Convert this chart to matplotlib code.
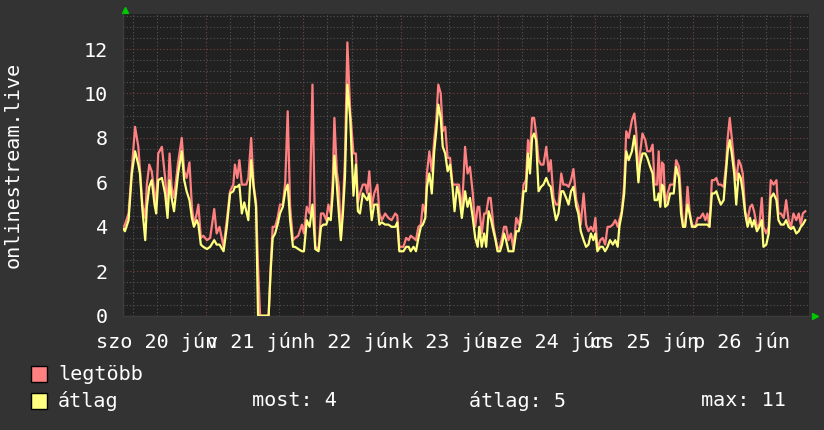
import matplotlib
matplotlib.use("Agg")
import matplotlib.pyplot as plt
from matplotlib.patches import Rectangle
from matplotlib.ticker import MultipleLocator

# ---- data: hours since 20 jún 00:00 ----
hours = [3.8, 4.1, 5.0, 5.8, 6.6, 7.4, 7.8, 8.4, 9.1, 9.5, 10.1, 10.7, 11.4, 11.8, 12.3, 13.2, 14.0, 14.6,
         15.1, 15.6, 16.2, 17.2, 18.1, 18.7, 19.3, 20.0, 20.6, 21.1, 21.8, 22.2, 22.8, 23.4, 24.3, 25.1,
         26.1, 26.7, 27.4, 28.4, 29.2, 30.0, 30.8, 31.2, 31.8, 32.3, 32.9, 33.5, 34.0, 34.5, 35.2, 35.8,
         36.4, 36.9, 37.4, 39.5, 40.0, 40.5, 41.1, 41.7, 42.3, 43.0, 43.6, 44.2, 44.8, 45.5,
         46.0, 46.8, 47.7, 48.2, 48.9, 49.6, 50.3, 51.0, 51.8, 52.4, 53.0, 53.7, 54.2, 54.8, 55.3, 55.7,
         56.3, 56.8, 57.3, 57.8, 58.3, 58.9, 59.6, 60.4, 61.0, 61.5, 62.0, 62.7, 63.4, 63.8, 64.3, 64.9,
         65.5, 66.3, 66.8, 67.4, 68.2, 69.0, 69.8, 70.7, 71.2, 71.7, 72.7, 73.4, 74.0, 74.5, 75.2, 75.8,
         76.4, 77.0, 77.5, 78.1, 78.5, 79.1, 79.7, 80.3, 80.8, 81.3, 81.9, 82.4, 83.0, 83.6, 84.2, 84.8,
         85.3, 85.9, 86.4, 87.1,
         87.9, 88.5, 89.1, 89.8, 90.4, 91.0, 91.4, 92.0, 92.6, 93.1, 93.7, 94.2, 94.9, 95.4, 95.9, 96.5,
         97.0, 97.5, 98.0, 98.6, 99.2, 99.8, 100.5, 101.1, 101.7, 102.3, 102.9, 103.4, 103.9, 104.4,
         104.9, 105.4, 106.0, 106.6, 107.2, 107.9, 108.5, 109.0, 109.7, 110.3, 110.9, 111.6, 112.1,
         112.8, 113.4, 114.0, 114.6, 115.3, 115.8, 116.4, 117.1, 117.7, 118.3, 118.9, 119.5, 120.0,
         120.5, 121.2, 121.8, 122.4, 123.0, 123.6, 124.3, 124.9, 125.5, 125.9, 126.5, 127.1, 127.6, 128.2,
         129.0, 129.6, 130.1, 130.6, 131.0, 131.6, 132.3, 132.8, 133.5, 134.1, 134.6, 135.2, 135.6,
         136.0, 136.4, 136.8, 137.2, 137.8, 138.4, 139.3, 139.9, 140.6, 141.1, 141.6, 142.1, 142.7,
         143.2, 143.8, 144.6, 145.2, 145.8, 146.5, 147.1, 147.6, 148.1, 148.7, 149.3, 149.8, 150.3,
         150.9, 151.6, 152.2, 152.6, 153.1, 153.6, 154.2, 154.7, 155.3, 155.8, 156.3, 156.9, 157.5,
         158.1, 158.6, 159.1, 159.8, 160.4, 161.0, 161.4, 162.1, 162.7, 163.2, 163.9, 164.6, 165.1,
         165.7, 166.4, 167.0, 167.6, 168.2, 168.8, 169.5, 170.1, 170.6, 171.1, 171.7]

legtobb = [4.0, 4.1, 4.6, 6.6, 8.5, 7.6, 6.6, 5.0, 4.4, 5.9, 6.8, 6.5, 5.5, 5.0, 7.3, 7.6, 6.2, 4.9,
           7.3, 5.8, 5.3, 6.9, 8.0, 6.5, 6.2, 6.9, 4.9, 4.1, 4.6, 5.0, 3.5, 3.6, 3.4, 3.5,
           4.8, 3.7, 4.0, 3.1, 4.3, 5.6, 5.9, 6.8, 6.2, 7.0, 5.9, 5.9, 5.9, 6.2, 8.0, 5.9,
           5.1, 2.2, 0.0, 0.0, 2.2, 4.0, 4.0, 4.4, 5.0, 5.0, 6.0, 9.2, 4.9, 3.4,
           3.5, 3.6, 4.1, 3.7, 4.9, 4.6, 10.4, 3.1, 3.0, 4.6, 4.6, 4.3, 5.0, 4.6, 6.1, 8.9,
           6.5, 5.8, 3.5, 5.0, 7.0, 12.3, 9.2, 7.3, 7.3, 5.1, 5.5, 5.9, 5.9, 5.5, 6.5, 4.9,
           5.5, 5.9, 4.6, 4.3, 4.6, 4.4, 4.3, 4.6, 4.5, 3.1, 3.1, 3.5, 3.4, 3.6, 3.5, 3.4,
           4.0, 4.1, 5.0, 4.6, 6.4, 7.4, 6.5, 7.9, 8.8, 10.4, 10.0, 8.3, 8.5, 7.1, 7.1, 5.9,
           5.9, 5.9, 5.9, 4.6,
           7.6, 6.4, 6.7, 5.5, 4.0, 4.9, 4.9, 3.7, 4.6, 4.6, 5.3, 5.3, 4.0, 3.5, 3.0, 3.1,
           3.5, 4.0, 4.0, 3.4, 3.7, 3.0, 4.4, 4.1, 4.6, 5.9, 6.1, 7.9, 7.3, 8.9,
           8.9, 8.2, 7.0, 6.8, 6.8, 7.6, 6.5, 7.0, 5.3, 5.0, 5.0, 6.4, 5.9,
           5.9, 5.8, 6.1, 6.6, 5.2, 4.9, 4.1, 5.5, 4.1, 3.8, 4.0, 3.8, 4.4,
           3.0, 3.4, 3.5, 3.2, 4.0, 4.0, 4.1, 4.3, 4.0, 4.3, 4.7, 5.9, 8.3, 8.0,
           8.8, 9.1, 8.2, 6.1, 7.3, 8.2, 7.9, 7.4, 7.4, 7.7, 5.9, 5.9, 7.4,
           5.3, 6.9, 6.8, 5.0, 5.5, 5.9, 5.9, 7.0, 6.7, 5.3, 4.0, 4.0, 5.8,
           4.7, 4.1, 4.0, 4.4, 4.4, 4.6, 4.3, 4.6, 4.0, 6.1, 6.1, 6.2, 5.9,
           5.9, 5.8, 6.8, 8.0, 8.9, 8.0, 6.8, 6.1, 7.0, 6.8, 6.4, 4.7, 4.3,
           4.9, 5.0, 4.7, 4.0, 4.1, 5.3, 4.0, 3.7, 4.0, 6.1, 5.9, 6.1, 4.6,
           4.6, 4.4, 5.2, 4.3, 4.0, 4.6, 4.3, 4.6, 4.1, 4.6, 4.7]

atlag = [3.9, 3.8, 4.3, 6.4, 7.4, 6.8, 6.4, 4.8, 3.4, 4.9, 5.8, 6.1, 5.0, 4.6, 6.1, 6.2, 5.5, 4.4,
         6.1, 5.3, 4.7, 6.4, 7.4, 6.1, 5.6, 5.2, 4.4, 4.0, 4.3, 4.1, 3.2, 3.1, 3.0, 3.1,
         3.4, 3.2, 3.2, 2.9, 4.0, 5.5, 5.6, 5.8, 5.8, 5.9, 4.6, 5.1, 4.7, 4.3, 7.0, 5.8,
         4.9, 0.0, 0.0, 0.0, 2.0, 3.5, 3.7, 4.1, 4.6, 4.9, 5.6, 5.9, 4.3, 3.1,
         3.1, 3.0, 2.9, 2.9, 4.3, 4.0, 5.0, 3.0, 2.9, 4.0, 4.1, 4.1, 4.4, 4.3, 5.5, 7.2,
         5.9, 4.6, 3.4, 4.6, 6.2, 10.4, 8.9, 5.4, 6.8, 4.7, 4.6, 5.5, 5.3, 5.2, 5.5, 4.3,
         5.0, 5.0, 4.1, 4.2, 4.1, 4.1, 4.0, 4.0, 4.2, 2.9, 2.9, 3.1, 3.1, 2.9, 3.1, 2.9,
         3.5, 4.0, 4.1, 4.4, 5.8, 6.4, 5.5, 7.4, 8.3, 9.5, 8.9, 7.6, 7.3, 6.5, 6.8, 5.8,
         4.7, 5.8, 5.5, 4.4,
         5.6, 4.9, 5.3, 4.4, 3.5, 3.1, 4.0, 3.1, 3.7, 3.1, 4.7, 4.4, 3.8, 3.4, 2.9, 2.9,
         3.2, 3.7, 3.4, 2.9, 2.9, 2.9, 3.8, 3.8, 4.3, 5.6, 5.6, 7.3, 6.4, 8.0,
         8.2, 7.9, 5.6, 5.8, 5.9, 6.2, 5.9, 5.8, 4.9, 4.3, 4.6, 5.6, 5.6,
         5.3, 5.0, 5.6, 5.8, 4.9, 4.6, 3.8, 3.4, 3.1, 3.2, 3.7, 3.4, 3.7,
         2.9, 3.1, 3.1, 2.9, 3.1, 3.4, 3.2, 3.4, 3.1, 4.0, 4.6, 5.5, 7.4, 7.0,
         7.4, 8.1, 7.3, 6.0, 6.8, 7.3, 7.3, 7.1, 6.7, 6.4, 5.2, 5.2, 5.5,
         4.9, 5.9, 5.8, 4.9, 5.0, 5.5, 5.5, 6.7, 6.2, 4.6, 4.0, 4.0, 5.0,
         4.6, 4.0, 4.0, 4.1, 4.1, 4.1, 4.1, 4.1, 4.0, 5.5, 5.5, 5.6, 5.3,
         5.0, 5.2, 6.5, 7.4, 7.9, 7.3, 6.4, 5.0, 6.4, 6.2, 5.6, 4.6, 4.0,
         4.4, 4.0, 4.3, 3.8, 4.0, 4.3, 3.1, 3.2, 3.7, 5.3, 5.5, 5.2, 4.3,
         4.1, 4.1, 4.3, 4.0, 3.9, 4.0, 3.7, 3.8, 4.0, 4.1, 4.3]

day_labels = ["szo 20 jún", "v 21 jún", "h 22 jún", "k 23 jún", "sze 24 jún", "cs 25 jún", "p 26 jún"]
y_ticks = [0, 2, 4, 6, 8, 10, 12]
series_names = ["legtöbb", "átlag"]
stats = ["most: 4", "átlag: 5", "max: 11"]

# ---- style ----
W, H = 824, 430
FIG_BG = "#333333"
AX_BG = "#212121"
RED = "#ff8080"
YEL = "#ffff80"
FONT = "DejaVu Sans Mono"
FS = 14.5

fig = plt.figure(figsize=(W / 100, H / 100), dpi=100, facecolor=FIG_BG)
left, right, top, bottom = 123.3, 809.3, 13.5, 315.7
ax = fig.add_axes([left / W, 1 - bottom / H, (right - left) / W, (bottom - top) / H])
ax.set_facecolor(AX_BG)

ax.set_xlim(3.7, 172.7)
ax.set_ylim(0, 13.6)

# grid
ax.xaxis.set_major_locator(MultipleLocator(24))
ax.xaxis.set_minor_locator(MultipleLocator(6))
ax.set_yticks(y_ticks)
ax.yaxis.set_minor_locator(MultipleLocator(0.5))
ax.grid(which="minor", color="#555555", linestyle=(0, (1, 2)), linewidth=0.8)
ax.grid(which="major", color="#7a4242", linestyle=(0, (1, 2)), linewidth=0.8)
ax.set_axisbelow(True)

ax.plot(hours, legtobb, color=RED, linewidth=1.6, zorder=3)
ax.plot(hours, atlag, color=YEL, linewidth=1.6, zorder=4)

for s in ["top", "right"]:
    ax.spines[s].set_visible(False)
for s in ["left", "bottom"]:
    ax.spines[s].set_color("#3c3c3c")
    ax.spines[s].set_linewidth(1.0)

ax.tick_params(axis="x", which="both", length=0, labelbottom=False)
ax.tick_params(axis="y", which="both", length=0, pad=11, labelcolor="white", labelsize=FS)
for lab in ax.get_yticklabels():
    lab.set_fontfamily(FONT)

# day labels centred at noon
for i, lab in enumerate(day_labels):
    ax.text(12 + 24 * i, -0.055, lab, transform=ax.get_xaxis_transform(), ha="center", va="top",
            color="white", fontsize=FS, family=FONT, clip_on=False)

# axis arrows
ax.plot([0.0025], [1.01], marker="^", color="#00c800", markersize=4.5, transform=ax.transAxes,
        clip_on=False, linestyle="none")
ax.plot([1.008], [0.0], marker=">", color="#00c800", markersize=4.5, transform=ax.transAxes,
        clip_on=False, linestyle="none")

# y label
fig.text(13 / W, 1 - 165 / H, "onlinestream.live", rotation=90, ha="center", va="center",
         color="white", fontsize=FS, family=FONT)

# legend
rows_y = [374, 401]
colors = [RED, YEL]
for name, c, py in zip(series_names, colors, rows_y):
    fig.patches.append(Rectangle((31 / W, 1 - (py + 8) / H), 16 / W, 16 / H, transform=fig.transFigure,
                                 facecolor=c, edgecolor="black", linewidth=1.0))
    fig.text(58 / W, 1 - py / H, name, ha="left", va="center", color="white", fontsize=FS, family=FONT)

for txt, px in zip(stats, [252, 469, 701]):
    fig.text(px / W, 1 - rows_y[1] / H, txt, ha="left", va="center", color="white", fontsize=FS, family=FONT)

fig.savefig("out.png", dpi=100, facecolor=FIG_BG)
